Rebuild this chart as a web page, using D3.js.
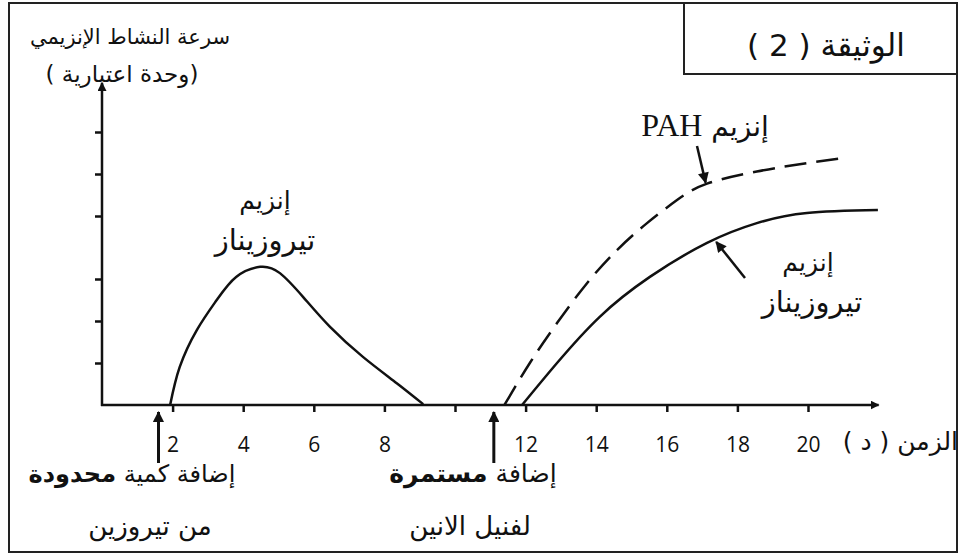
<!DOCTYPE html>
<html>
<head>
<meta charset="utf-8">
<script src="https://cdn.jsdelivr.net/npm/d3@7"></script>
<style>
    body { margin: 0; background: #fff; }
    text { font-family: "DejaVu Sans", sans-serif; fill: #111; }
</style>
</head>
<body>
<div id="chart"></div>
<script>
// time in minutes, activity in arbitrary units
const xTicks = [2, 4, 6, 8, 10, 12, 14, 16, 18, 20];
const yTicks = [1, 2, 3, 4.5, 5.5, 6.5];

const tyrosinaseFirst = [
    [1.93, 0], [2.2, 0.9], [2.69, 1.79], [3.25, 2.5], [3.8, 3.05], [4.48, 3.29],
    [5.04, 3.14], [5.7, 2.57], [6.46, 1.86], [7.4, 1.14], [8.35, 0.52], [9.1, 0.02],
];
const tyrosinaseSecond = [
    [11.9, 0], [12.89, 1.0], [14.1, 2.1], [15.52, 3.05], [17.14, 3.86],
    [18.55, 4.33], [19.97, 4.57], [21.98, 4.64],
];
const pah = [
    [11.4, 0], [12.12, 1.0], [12.89, 1.95], [13.74, 2.9], [14.59, 3.69], [15.44, 4.33],
    [16.29, 4.88], [17.14, 5.27], [18.55, 5.56], [19.97, 5.76], [21.0, 5.88],
];
// additions (time) marked with arrows under the axis
const additions = [1.6, 11.1];

const width = 960;
const height = 556;

const x = d3.scaleLinear().domain([0, 22]).range([102, 878.6]);
const y = d3.scaleLinear().domain([0, 7.6]).range([405, 85.8]);

const svg = d3.select("#chart").append("svg").attr("width", width).attr("height", height);

const defs = svg.append("defs");
const marker = (id, w, h) => {
    defs.append("marker")
        .attr("id", id)
        .attr("viewBox", "0 0 10 10")
        .attr("refX", 9)
        .attr("refY", 5)
        .attr("markerWidth", w)
        .attr("markerHeight", h)
        .attr("markerUnits", "userSpaceOnUse")
        .attr("orient", "auto")
        .append("path")
        .attr("d", "M0,0 L10,5 L0,10 z")
        .attr("fill", "#111");
};
marker("head", 9, 9);
marker("bighead", 13, 11);

// outer frame and title box
svg.append("rect")
    .attr("x", 9).attr("y", 3).attr("width", 948).attr("height", 549)
    .attr("fill", "none").attr("stroke", "#222").attr("stroke-width", 2);
svg.append("rect")
    .attr("x", 684).attr("y", 3).attr("width", 273).attr("height", 71)
    .attr("fill", "none").attr("stroke", "#222").attr("stroke-width", 2);
svg.append("text")
    .attr("x", 826).attr("y", 56)
    .attr("text-anchor", "middle")
    .attr("direction", "rtl")
    .style("font-size", "31px")
    .text("الوثيقة ( 2 )");

// axes
const xAxis = svg.append("g")
    .attr("transform", `translate(0,${y(0)})`)
    .call(d3.axisBottom(x).tickValues(xTicks).tickSize(7).tickPadding(25)
        .tickFormat(d => (d === 10 ? "" : d)));
xAxis.select(".domain").remove();
xAxis.selectAll(".tick line").attr("stroke", "#111").attr("stroke-width", 2.5);
xAxis.selectAll(".tick text")
    .style("font-family", "'Open Sans', sans-serif")
    .style("font-size", "21px")
    .attr("fill", "#111");

const yAxis = svg.append("g")
    .attr("transform", `translate(${x(0)},0)`)
    .call(d3.axisLeft(y).tickValues(yTicks).tickSize(7).tickFormat(""));
yAxis.select(".domain").remove();
yAxis.selectAll(".tick line").attr("stroke", "#111").attr("stroke-width", 2.5);

svg.append("line")
    .attr("x1", x(0) - 1).attr("y1", y(0))
    .attr("x2", x(22)).attr("y2", y(0))
    .attr("stroke", "#111").attr("stroke-width", 2.5)
    .attr("marker-end", "url(#head)");
svg.append("line")
    .attr("x1", x(0)).attr("y1", y(0) + 1)
    .attr("x2", x(0)).attr("y2", y(7.6) - 3)
    .attr("stroke", "#111").attr("stroke-width", 2.5)
    .attr("marker-end", "url(#head)");

svg.append("text")
    .attr("x", 958).attr("y", 450)
    .attr("text-anchor", "start")
    .attr("direction", "rtl")
    .style("font-size", "25px")
    .text("الزمن ( د )");

svg.append("text")
    .attr("x", 130).attr("y", 44)
    .attr("text-anchor", "middle")
    .attr("direction", "rtl")
    .style("font-size", "21px")
    .text("سرعة النشاط الإنزيمي");
svg.append("text")
    .attr("x", 122).attr("y", 82)
    .attr("text-anchor", "middle")
    .attr("direction", "rtl")
    .style("font-size", "23px")
    .text("(وحدة اعتبارية )");

// curves
const line = d3.line()
    .x(d => x(d[0]))
    .y(d => y(d[1]))
    .curve(d3.curveNatural);

svg.append("path").datum(tyrosinaseFirst)
    .attr("d", line).attr("fill", "none").attr("stroke", "#111").attr("stroke-width", 2.5);
svg.append("path").datum(tyrosinaseSecond)
    .attr("d", line).attr("fill", "none").attr("stroke", "#111").attr("stroke-width", 2.5);
svg.append("path").datum(pah)
    .attr("d", line).attr("fill", "none").attr("stroke", "#111").attr("stroke-width", 2.5)
    .attr("stroke-dasharray", "22,10");

// curve labels
const label = (cx, cy, t, size) => {
    svg.append("text")
        .attr("x", cx).attr("y", cy)
        .attr("text-anchor", "middle")
        .attr("direction", "rtl")
        .style("font-size", `${size}px`)
        .text(t);
};
label(265, 209, "إنزيم", 25);
label(265, 250, "تيروزيناز", 29);
label(808, 271, "إنزيم", 25);
label(812, 312, "تيروزيناز", 29);

const pahLabel = svg.append("text")
    .attr("x", 705).attr("y", 136)
    .attr("text-anchor", "middle")
    .attr("direction", "rtl")
    .style("font-size", "28px");
pahLabel.append("tspan").text("إنزيم ");
pahLabel.append("tspan")
    .style("font-family", "'Liberation Serif', serif")
    .style("font-size", "32px")
    .text("PAH");

// pointer arrows to curves
svg.append("line")
    .attr("x1", 697).attr("y1", 146)
    .attr("x2", x(17.1)).attr("y2", y(5.27) - 1)
    .attr("stroke", "#111").attr("stroke-width", 2.5)
    .attr("marker-end", "url(#bighead)");
svg.append("line")
    .attr("x1", 745).attr("y1", 278)
    .attr("x2", x(17.4)).attr("y2", y(3.93) + 2)
    .attr("stroke", "#111").attr("stroke-width", 2.5)
    .attr("marker-end", "url(#bighead)");

// addition arrows under the axis
additions.forEach(t => {
    svg.append("line")
        .attr("x1", x(t)).attr("y1", 463)
        .attr("x2", x(t)).attr("y2", 412)
        .attr("stroke", "#111").attr("stroke-width", 3)
        .attr("marker-end", "url(#bighead)");
});

const twoPart = (cx, cy, plain, bold, size) => {
    const t = svg.append("text")
        .attr("x", cx).attr("y", cy)
        .attr("text-anchor", "middle")
        .attr("direction", "rtl")
        .style("font-size", `${size}px`);
    t.append("tspan").text(plain);
    t.append("tspan").style("font-weight", "bold").text(bold);
};
twoPart(132, 482, "إضافة كمية ", "محدودة", 24);
twoPart(473, 482, "إضافة ", "مستمرة", 25);
label(150, 535, "من تيروزين", 26);
label(470, 535, "لفنيل الانين", 26);
</script>
</body>
</html>
